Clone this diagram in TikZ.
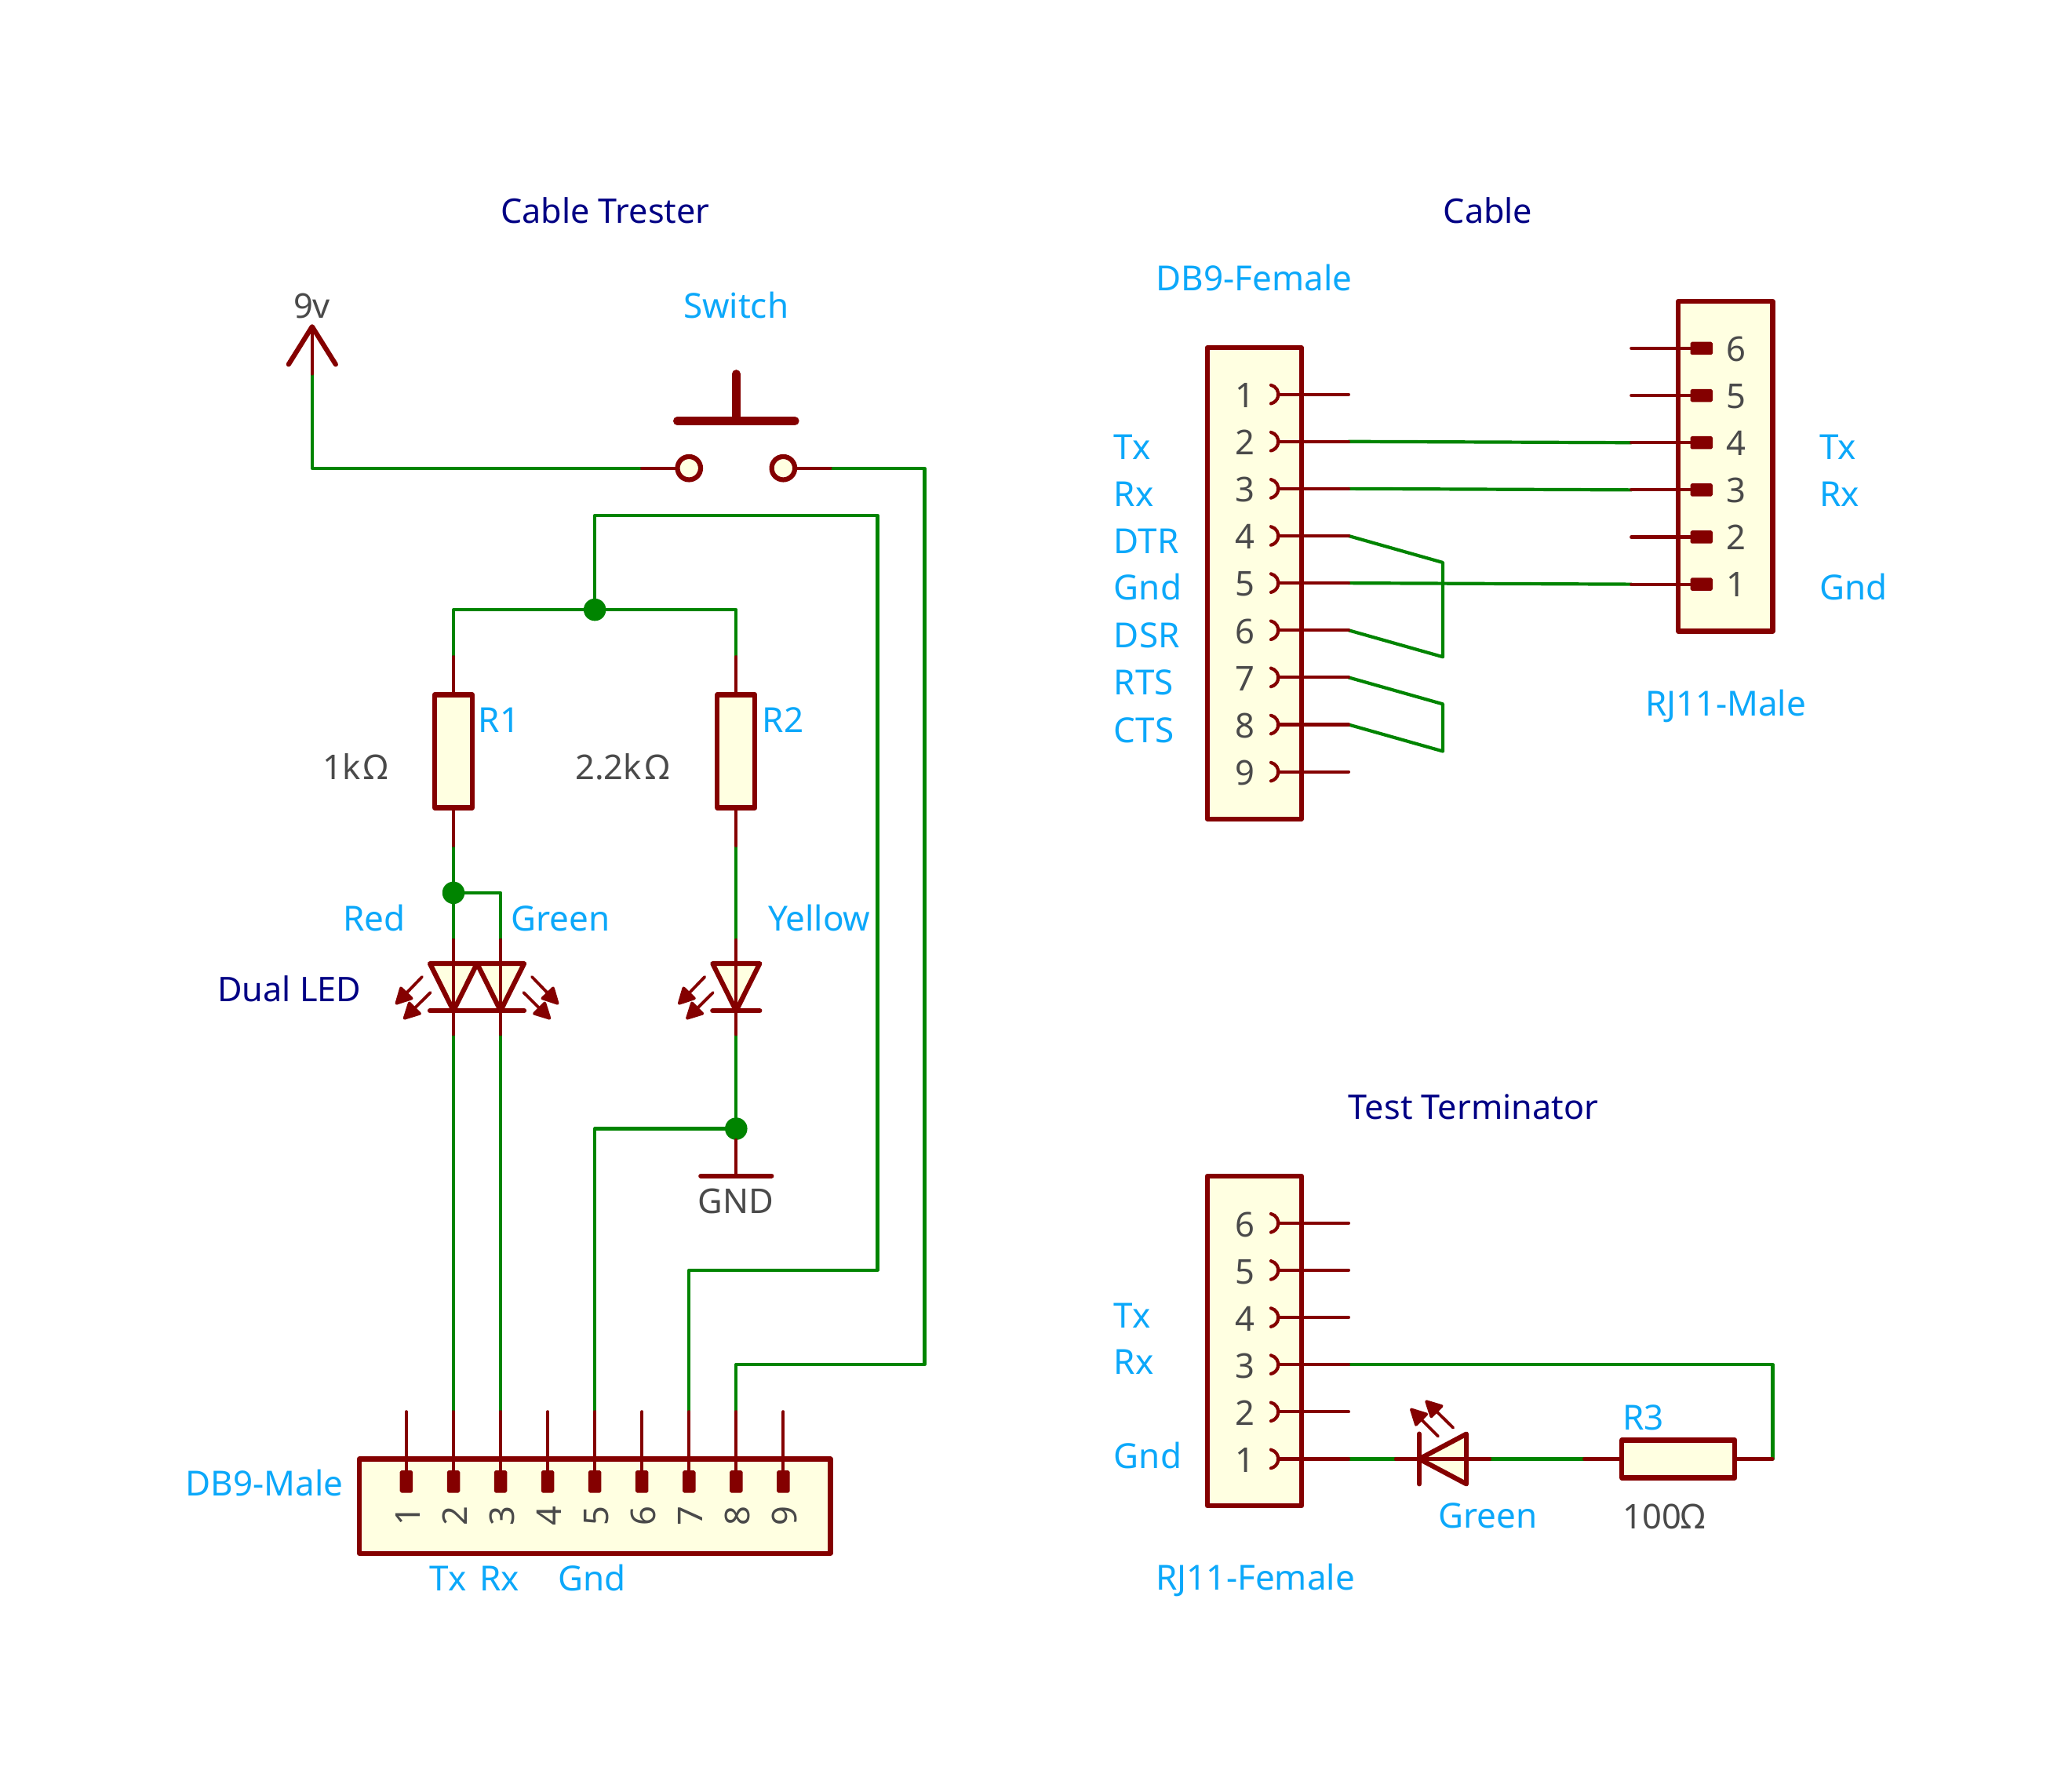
\documentclass[tikz,border=0pt]{standalone}
\usepackage{fontspec}
\setmainfont{Noto Sans}
\usetikzlibrary{arrows.meta}
\definecolor{bodyred}{HTML}{840000}
\definecolor{bodyfill}{HTML}{FFFFE1}
\definecolor{wiregreen}{HTML}{008400}
\definecolor{labblue}{HTML}{0CA8FA}
\definecolor{titlenavy}{HTML}{000084}
\definecolor{valgrey}{HTML}{4A4A4A}
\tikzset{
  wire/.style={draw=wiregreen,line width=4.2pt,line join=round,line cap=round},
  pinline/.style={draw=bodyred,line width=4.2pt,line cap=round},
  outl/.style={draw=bodyred,line width=6.2pt,line join=round,line cap=round},
  rbody/.style={outl,fill=bodyfill,inner sep=0pt,outer sep=0pt},
  pad/.style={fill=bodyred,draw=bodyred,line width=1.5pt,line join=round,inner sep=0pt,outer sep=0pt},
  dot/.style={circle,fill=wiregreen,inner sep=0pt,minimum size=28.5pt},
  ledarr/.style={draw=bodyred,fill=bodyred,line width=3.8pt,line cap=round,line join=round,-{Triangle[length=24pt,width=24pt,round]}},
  txt/.style={inner sep=0pt,outer sep=0pt},
  blue/.style={txt,text=labblue,font=\fontsize{44}{50}\selectfont},
  navy/.style={txt,text=titlenavy,font=\fontsize{43.2}{50}\selectfont},
  grey/.style={txt,text=valgrey,font=\fontsize{43.5}{50}\selectfont}
}
\newcommand{\ledDown}[1]{%
  \draw[outl,fill=bodyfill] (#1-.5,10.5) -- (#1+.5,10.5) -- (#1,11.5) -- cycle;
  \draw[outl] (#1-.5,11.5) -- (#1+.5,11.5);
  \draw[pinline] (#1,10) -- (#1,12);
}
\newcommand{\arrowsLeft}[1]{%
  \draw[ledarr] (#1-.665,10.78) -- (#1-1.23,11.365);
  \draw[ledarr] (#1-.49,11.115) -- (#1-1.06,11.68);
}
\newcommand{\arrowsRight}[1]{%
  \draw[ledarr] (#1+.665,10.78) -- (#1+1.23,11.365);
  \draw[ledarr] (#1+.49,11.115) -- (#1+1.06,11.68);
}
\begin{document}
\begin{tikzpicture}[x=60.05pt,y=-60.13pt]
% ---- page: grid origin sits at pixel (578,596.7)
\begin{scope}[x=1.6843pt,y=-1.6843pt,shift={(-578pt,596.7pt)}]
  \useasboundingbox (0,0) rectangle (1568,1350.7);
  \fill[white] (0,0) rectangle (1568,1350.7);
\end{scope}

% ---- named points
\coordinate (vcc) at (-3,-2);
\coordinate (vcctop) at (-3,-3);
\coordinate (swL) at (4,0);
\coordinate (swR) at (8,0);
\coordinate (swCL) at (5,0);
\coordinate (swCR) at (7,0);
\coordinate (r1t) at (0,4);
\coordinate (r1b) at (0,8);
\coordinate (r2t) at (6,4);
\coordinate (r2b) at (6,8);
\coordinate (lr) at (0,10);
\coordinate (lg) at (1,10);
\coordinate (ly) at (6,10);
\coordinate (lrb) at (0,12);
\coordinate (lgb) at (1,12);
\coordinate (lyb) at (6,12);
\coordinate (gnd) at (6,15);
\foreach \n in {1,...,9}{\coordinate (dm\n) at (\n-2,20);}
\foreach \n in {1,...,9}{\coordinate (df\n) at (19,\n-2.565);}
\foreach \n in {1,...,6}{\coordinate (rm\n) at (25,3.46-\n);}
\foreach \n in {1,...,6}{\coordinate (tt\n) at (19,22-\n);}
\coordinate (tled1) at (20,21);
\coordinate (tled2) at (22,21);
\coordinate (r3l) at (24,21);
\coordinate (r3r) at (28,21);

% ---- wires
\node[dot] (j1) at (3,3) {};
\node[dot] (j2) at (0,9) {};
\node[dot] (j3) at (6,14) {};
\draw[wire] (vcc) |- (swL);
\draw[wire] (swR) -| (10,19) -| (dm8);
\draw[wire] (r1t) |- (j1);
\draw[wire] (j1) -| (r2t);
\draw[wire] (j1) |- (9,1) |- (5,17) -- (dm7);
\draw[wire] (r1b) -- (j2);
\draw[wire] (j2) -- (lr);
\draw[wire] (j2) -| (lg);
\draw[wire] (r2b) -- (ly);
\draw[wire] (lrb) -- (dm2);
\draw[wire] (lgb) -- (dm3);
\draw[wire] (lyb) -- (j3);
\draw[wire] (j3) -| (dm5);
\draw[wire] (df2) -- (rm4);
\draw[wire] (df3) -- (rm3);
\draw[wire] (df5) -- (rm1);
\draw[wire] (df4) -- (21,2) -- (21,4) -- (df6);
\draw[wire] (df7) -- (21,5) -- (21,6) -- (df8);
\draw[wire] (tt3) -| (28,21);
\draw[wire] (tt1) -- (tled1);
\draw[wire] (tled2) -- (r3l);

% ---- 9v symbol
\draw[pinline] (vcc) -- (vcctop);
\draw[outl] (-3.5,-2.2) -- (vcctop) -- (-2.5,-2.2);

% ---- switch
\draw[pinline] (swL) -- (swCL);
\draw[pinline] (swR) -- (swCR);
\node[circle,rbody,minimum size=29.5pt] (sw1) at (swCL) {};
\node[circle,rbody,minimum size=29.5pt] (sw2) at (swCR) {};
\draw[draw=bodyred,line width=10.5pt,line cap=round] (4.75,-1) -- (7.25,-1);
\draw[draw=bodyred,line width=10.5pt,line cap=round] (6,-1) -- (6,-2);

% ---- resistors
\draw[pinline] (r1t) -- (r1b);
\draw[pinline] (r2t) -- (r2b);
\node[rbody,minimum width=48pt,minimum height=144pt] (R1) at (0,6) {};
\node[rbody,minimum width=48pt,minimum height=144pt] (R2) at (6,6) {};

% ---- LEDs
\ledDown{0}
\ledDown{1}
\ledDown{6}
\arrowsLeft{0}
\arrowsRight{1}
\arrowsLeft{6}

% ---- ground
\draw[pinline] (j3) -- (gnd);
\draw[outl] (5.25,15) -- (6.75,15);

% ---- DB9 male
\node[rbody,minimum width=600.5pt,minimum height=120.1pt] (J1) at (3,22) {};
\foreach \n in {1,...,9}{
  \node[pad,minimum width=15pt,minimum height=27pt,rounded corners=1.5pt] (dmp\n) at (\n-2,21.48) {};
  \draw[pinline] (dm\n) -- (dmp\n);
  \node[grey,rotate=90,anchor=base] (dmn\n) at (\n-2+.29,22.2) {\n};
}

% ---- DB9 female
\node[rbody,minimum width=120.1pt,minimum height=600.5pt] (J2) at (17,2.44) {};
\foreach \n in {1,...,9}{
  \coordinate (dfs\n) at (17.5,\n-2.565);
  \draw[pinline] (df\n) -- (dfs\n);
  \draw[pinline] (17.306,\n-2.565) ++(77:12.1pt) arc[start angle=77,end angle=-77,radius=12.1pt];
  \node[grey,anchor=base] (dfn\n) at (16.8,\n-2.565+.28) {\n};
}

% ---- RJ11 male
\node[rbody,minimum width=120.1pt,minimum height=420.35pt] (J3) at (27,-.04) {};
\foreach \n in {1,...,6}{
  \node[pad,minimum width=27pt,minimum height=15pt,rounded corners=1.5pt] (rmp\n) at (26.49,3.46-\n) {};
  \draw[pinline] (rm\n) -- (rmp\n);
  \node[grey,anchor=base] (rmn\n) at (27.23,3.46-\n+.27) {\n};
}

% ---- RJ11 female
\node[rbody,minimum width=120.1pt,minimum height=420.35pt] (J4) at (17,18.5) {};
\foreach \n in {1,...,6}{
  \coordinate (tts\n) at (17.5,22-\n);
  \draw[pinline] (tt\n) -- (tts\n);
  \draw[pinline] (17.306,22-\n) ++(77:12.1pt) arc[start angle=77,end angle=-77,radius=12.1pt];
  \node[grey,anchor=base] (ttn\n) at (16.8,22-\n+.29) {\n};
}

% ---- terminator LED and R3
\draw[outl,fill=bodyfill] (21.5,20.47) -- (21.5,21.53) -- (20.5,21) -- cycle;
\draw[outl] (20.5,20.47) -- (20.5,21.53);
\draw[pinline] (tled1) -- (tled2);
\draw[ledarr] (20.9,20.52) -- (20.31,19.93);
\draw[ledarr] (21.22,20.34) -- (20.63,19.76);
\draw[pinline] (r3l) -- (r3r);
\node[rbody,minimum width=144pt,minimum height=48pt] (R3) at (26,21) {};

% ---- text (display coordinates)
\begin{scope}[x=1.6843pt,y=-1.6843pt,shift={(-578pt,595pt)}]
  \node[navy,anchor=base] (t1) at (458,168) {Cable Trester};
  \node[navy,anchor=base] (t2) at (1126,168) {Cable};
  \node[navy,anchor=base] (t3) at (1115,846) {Test Terminator};
  \node[navy,anchor=base] (t4) at (219,757) {Dual LED};
  \node[blue,anchor=base] (a1) at (949,219) {DB9-Female};
  \node[grey,anchor=base] (a2) at (236,240) {9v};
  \node[blue,anchor=base] (a3) at (557,240) {Switch};
  \node[blue,anchor=base west] (a4) at (362,553) {R1};
  \node[blue,anchor=base west] (a5) at (577,553) {R2};
  \node[grey,anchor=base] (a6) at (269,589) {1k$\,$Ω};
  \node[grey,anchor=base] (a7) at (471,589) {2.2k$\,$Ω};
  \node[blue,anchor=base] (a8) at (283,703.5) {Red};
  \node[blue,anchor=base] (a9) at (424,703.5) {Green};
  \node[blue,anchor=base] (a10) at (620,703.5) {Yellow};
  \node[grey,anchor=base] (a11) at (557,917) {GND};
  \node[blue,anchor=base] (a12) at (200,1131) {DB9-Male};
  \node[blue,anchor=base] (a13) at (339,1203) {Tx};
  \node[blue,anchor=base] (a14) at (378,1203) {Rx};
  \node[blue,anchor=base] (a15) at (448,1203) {Gnd};
  \node[blue,anchor=base west] (b1) at (843,346.5) {Tx};
  \node[blue,anchor=base west] (b2) at (843,382) {Rx};
  \node[blue,anchor=base west] (b3) at (843,418) {DTR};
  \node[blue,anchor=base west] (b4) at (843,453) {Gnd};
  \node[blue,anchor=base west] (b5) at (843,489) {DSR};
  \node[blue,anchor=base west] (b6) at (843,525) {RTS};
  \node[blue,anchor=base west] (b7) at (843,561) {CTS};
  \node[blue,anchor=base west] (c1) at (1377,346.5) {Tx};
  \node[blue,anchor=base west] (c2) at (1377,382) {Rx};
  \node[blue,anchor=base west] (c3) at (1377,453) {Gnd};
  \node[blue,anchor=base] (c4) at (1306,541) {RJ11-Male};
  \node[blue,anchor=base west] (d1) at (843,1004) {Tx};
  \node[blue,anchor=base west] (d2) at (843,1039) {Rx};
  \node[blue,anchor=base west] (d3) at (843,1110) {Gnd};
  \node[blue,anchor=base] (d4) at (1126,1155) {Green};
  \node[blue,anchor=base west] (d5) at (1228,1081) {R3};
  \node[grey,anchor=base west] (d6) at (1228,1156) {100Ω};
  \node[blue,anchor=base] (d7) at (950,1202) {RJ11-Female};
\end{scope}
\end{tikzpicture}
\end{document}
